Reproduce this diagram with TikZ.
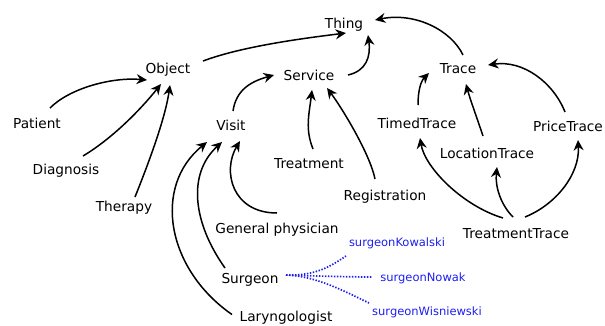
\documentclass[tikz,border=0pt]{standalone}
\usepackage{fontspec}
\setmainfont{DejaVu Sans}
\usetikzlibrary{arrows.meta}
\tikzset{
  lbl/.style={inner sep=0pt, anchor=base, font=\fontsize{13.7}{16}\selectfont},
  inst/.style={inner sep=0pt, anchor=base, text=instblue, font=\fontsize{11.5}{14}\selectfont},
  isa/.style={line width=1.5pt, -{Stealth[length=10.5pt,width=10pt,inset=3.5pt]}},
  link/.style={line width=1.7pt, draw=instblue, dash pattern=on 1.4pt off 1.6pt}
}
\definecolor{instblue}{RGB}{30,30,240}
\begin{document}
\begin{tikzpicture}[x=1pt,y=1pt]
\useasboundingbox (0,0) rectangle (605,-325);

% classes
\node[lbl] (thing)   at (344,-28)  {Thing};
\node[lbl] (object)  at (168,-73)  {Object};
\node[lbl] (service) at (309,-80)  {Service};
\node[lbl] (trace)   at (458,-73)  {Trace};
\node[lbl] (patient) at (37,-128)  {Patient};
\node[lbl] (visit)   at (231,-130) {Visit};
\node[lbl] (timed)   at (417,-128) {TimedTrace};
\node[lbl] (price)   at (568,-131) {PriceTrace};
\node[lbl] (loc)     at (487,-158) {LocationTrace};
\node[lbl] (diag)    at (66,-174)  {Diagnosis};
\node[lbl] (treat)   at (309,-168) {Treatment};
\node[lbl] (therapy) at (124,-211) {Therapy};
\node[lbl] (reg)     at (385,-200) {Registration};
\node[lbl] (gp)      at (277,-233) {General physician};
\node[lbl] (tt)      at (516,-238) {TreatmentTrace};
\node[lbl] (surgeon) at (250,-283) {Surgeon};
\node[lbl] (laryn)   at (286,-321.5) {Laryngologist};

% individuals
\node[inst] (kow) at (397,-246) {surgeonKowalski};
\node[inst] (now) at (423,-281) {surgeonNowak};
\node[inst] (wis) at (427,-315) {surgeonWisniewski};

% subclass links
\draw[isa] ([shift={(35,12)}]object.base) .. controls +(40,15) and +(-40,-5) .. ([shift={(2,-5)}]thing.base);
\draw[isa] ([shift={(39,5)}]service.base) .. controls +(18,4) and +(3,-22) .. ([shift={(24,-7)}]thing.base);
\draw[isa] ([shift={(5,18)}]trace.base) .. controls +(-12,25) and +(40,8) .. ([shift={(31,8)}]thing.base);

\draw[isa] ([shift={(13,20)}]patient.base) .. controls +(20,20) and +(-35,3) .. ([shift={(-21,-7)}]object.base);
\draw[isa] ([shift={(17,18)}]diag.base) .. controls +(30,18) and +(-20,-25) .. ([shift={(-7,-11)}]object.base);
\draw[isa] ([shift={(11,14)}]therapy.base) .. controls +(12,30) and +(-5,-35) .. ([shift={(2,-12)}]object.base);

\draw[isa] ([shift={(2,19)}]visit.base) .. controls +(3,20) and +(-25,-7) .. ([shift={(-35,5)}]service.base);
\draw[isa] ([shift={(4,19)}]treat.base) .. controls +(-8,20) and +(-3,-25) .. ([shift={(3,-10)}]service.base);
\draw[isa] ([shift={(-10,21)}]reg.base) .. controls +(-5,25) and +(15,-20) .. ([shift={(18,-8)}]service.base);

\draw[isa] ([shift={(1,23)}]timed.base) .. controls +(0,15) and +(-8,-8) .. ([shift={(-29,0)}]trace.base);
\draw[isa] ([shift={(-4,22)}]loc.base) .. controls +(-6,18) and +(4,-15) .. ([shift={(8,-11)}]trace.base);
\draw[isa] ([shift={(-3,19)}]price.base) .. controls +(-12,30) and +(35,5) .. ([shift={(30,8)}]trace.base);

\draw[isa] ([shift={(-13,20)}]tt.base) .. controls +(-40,12) and +(5,-30) .. ([shift={(3,-10)}]timed.base);
\draw[isa] ([shift={(-3,21)}]tt.base) .. controls +(-12,12) and +(-2,-20) .. ([shift={(10,-9)}]loc.base);
\draw[isa] ([shift={(9,21)}]tt.base) .. controls +(30,12) and +(2,-35) .. ([shift={(10,-9)}]price.base);

\draw[isa] ([shift={(0,20)}]gp.base) .. controls +(-45,0) and +(-18,-30) .. ([shift={(9,-11)}]visit.base);
\draw[isa] ([shift={(-25,15)}]surgeon.base) .. controls +(-32,45) and +(-35,-32) .. ([shift={(-9,-12)}]visit.base);
\draw[isa] ([shift={(-54,7)}]laryn.base) .. controls +(-65,45) and +(-55,-45) .. ([shift={(-24,-12)}]visit.base);

% instance links
\draw[link] ([shift={(36,8)}]surgeon.base) .. controls +(30,-1) and +(-15,-10) .. ([shift={(-51,-10)}]kow.base);
\draw[link] ([shift={(36,8)}]surgeon.base) .. controls +(30,-1) and +(-20,0) .. ([shift={(-51,4)}]now.base);
\draw[link] ([shift={(36,8)}]surgeon.base) .. controls +(30,-1) and +(-25,12) .. ([shift={(-58,12)}]wis.base);
\end{tikzpicture}
\end{document}
